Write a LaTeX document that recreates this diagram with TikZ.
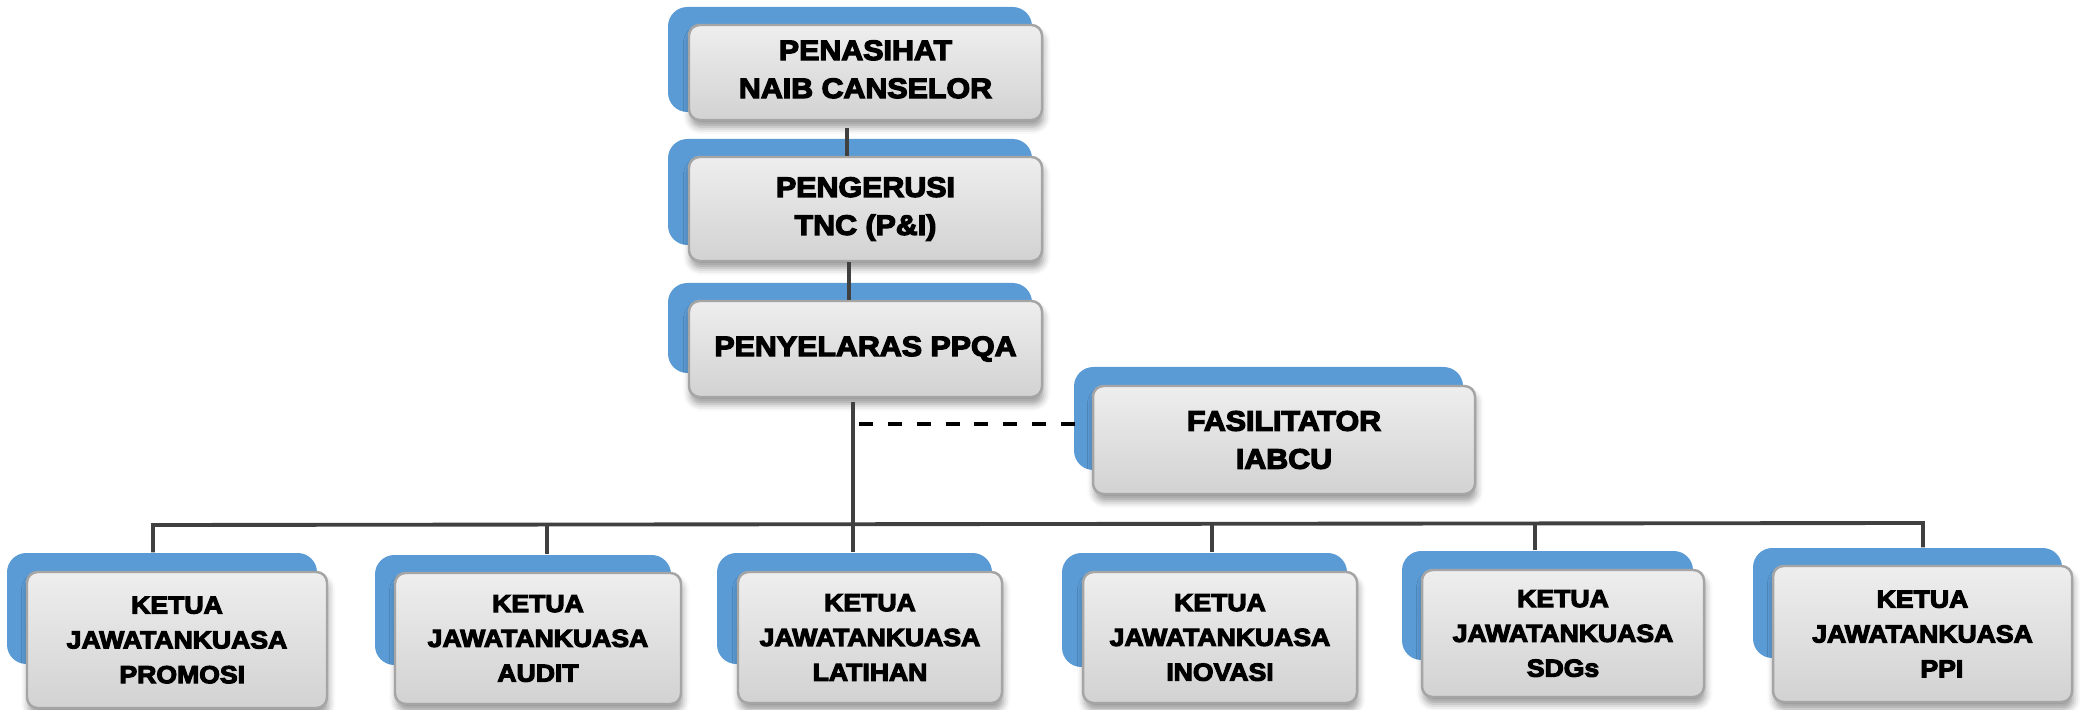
\documentclass[tikz,border=0pt]{standalone}
\usepackage{fontspec}
\newfontfamily\blk{Liberation Sans Bold}[FakeStretch=1.08,FakeBold=4.5]
\usetikzlibrary{shadows.blur,calc}
\definecolor{bluebk}{HTML}{5B9BD5}
\definecolor{gtop}{HTML}{EEEEEE}
\definecolor{gbot}{HTML}{D2D2D2}
\definecolor{gedge}{HTML}{A5A5A5}
\definecolor{connc}{HTML}{404040}
\tikzset{
  bluebox/.style={fill=bluebk, rounded corners=5.5pt, inner sep=0pt},
  graybox/.style={draw=gedge, line width=0.7pt, top color=gtop, bottom color=gbot,
    rounded corners=3pt, inner sep=0pt, align=center,
    blur shadow={shadow xshift=0.4pt, shadow yshift=-2pt, shadow blur radius=2pt, shadow opacity=40}},
  toptext/.style={font=\blk\fontsize{8}{10.8}\selectfont},
  bottext/.style={font=\blk\fontsize{7}{9.9}\selectfont},
  connline/.style={draw=connc, line width=1.1pt},
  dashline/.style={draw=black, line width=1.3pt, dash pattern=on 4pt off 4.2pt},
}
% name x1 y1 x2 y2
\newcommand\bluerect[5]{\node[bluebox, minimum width={(#4-#2)*0.01cm}, minimum height={(#5-#3)*0.01cm}] (#1) at ({(#2+#4)/2},{(#3+#5)/2}) {};}
% name x1 y1 x2 y2 text style
\newcommand\grayrect[7]{\node[graybox,#7, minimum width={(#4-#2)*0.01cm}, minimum height={(#5-#3)*0.01cm}] (#1) at ({(#2+#4)/2},{(#3+#5)/2}) {#6};}
\begin{document}
\begin{tikzpicture}[x=0.01cm,y=-0.01cm]
\useasboundingbox (0,0) rectangle (2080,710);
% blue backing boxes
\bluerect{b1}{668}{7}{1032}{112}
\bluerect{b2}{668}{139}{1032}{245}
\bluerect{b3}{668}{283}{1032}{373}
\bluerect{bF}{1074}{367}{1463}{470}
\bluerect{bP}{7}{553}{317}{664}
\bluerect{bA}{375}{555}{671}{665}
\bluerect{bL}{717}{553}{992}{664}
\bluerect{bI}{1062}{553}{1347}{667}
\bluerect{bS}{1402}{551}{1693}{660}
\bluerect{bQ}{1753}{548}{2062}{658}
% connector coordinates
\coordinate (c12) at (847,0);
\coordinate (c23) at (849,0);
\coordinate (tk) at (853,0);
\coordinate (busL) at (153,525);
\coordinate (busR) at (1923,523);
\coordinate (dA) at (547,525);
\coordinate (dI) at (1212,524);
\coordinate (dS) at (1535,523);
\coordinate (dst) at (859,424);
% gray boxes
\grayrect{g1}{689}{25}{1042}{120}{\mbox{}\\[-7pt]PENASIHAT\\NAIB CANSELOR}{toptext}
\grayrect{g2}{689}{157}{1042}{261}{PENGERUSI\\TNC (P\&I)}{toptext}
\grayrect{g3}{689}{301}{1042}{397}{PENYELARAS PPQA}{toptext}
\grayrect{gF}{1093}{386}{1475}{494}{FASILITATOR\\IABCU}{toptext}
\grayrect{gP}{27}{572}{327}{708}{KETUA\\JAWATANKUASA\\\hspace*{3pt}PROMOSI}{bottext}
\grayrect{gA}{395}{573}{681}{704}{KETUA\\JAWATANKUASA\\AUDIT}{bottext}
\grayrect{gL}{738}{572}{1002}{703}{KETUA\\JAWATANKUASA\\LATIHAN}{bottext}
\grayrect{gI}{1083}{572}{1357}{703}{KETUA\\JAWATANKUASA\\INOVASI}{bottext}
\grayrect{gS}{1422}{570}{1704}{697}{KETUA\\JAWATANKUASA\\SDGs}{bottext}
\grayrect{gQ}{1773}{566}{2072}{702}{KETUA\\JAWATANKUASA\\\hspace*{11pt}PPI}{bottext}
% connectors
\draw[connline] ([yshift=-2pt]g1.south -| c12) -- (g2.north -| c12);
\draw[connline] (g2.south -| c23) -- (g3.north -| c23);
\draw[connline] ([yshift=-1pt]g3.south -| tk) -- (bL.north -| tk);
\draw[connline] (bP.north -| busL) -- (busL) -- (busR) -- (bQ.north -| busR);
\draw[connline] (bA.north -| dA) -- (dA);
\draw[connline] (bI.north -| dI) -- (dI);
\draw[connline] (bS.north -| dS) -- (dS);
\draw[dashline] (dst) -- ($(bF.west |- dst)+(5,0)$);
\end{tikzpicture}
\end{document}
